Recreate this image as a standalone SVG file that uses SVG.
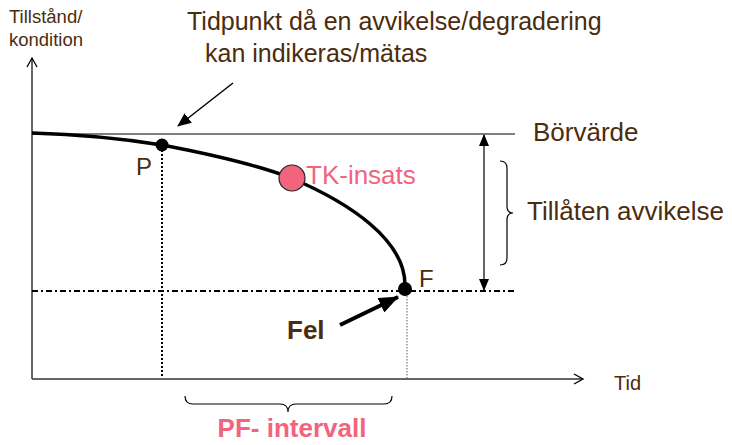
<svg xmlns="http://www.w3.org/2000/svg" width="732" height="445" viewBox="0 0 732 445">
<style>
text{font-family:"Liberation Sans",Arial,sans-serif;fill:#4B2C0E}
.pink{fill:#F2647E}
.ax{stroke:#333;stroke-width:1.5;fill:none}
</style>
<defs>
<marker id="open" markerWidth="12" markerHeight="12" refX="10" refY="6" orient="auto" markerUnits="userSpaceOnUse">
<path d="M1,1 L10,6 L1,11" fill="none" stroke="#000" stroke-width="1.3"/>
</marker>
<marker id="fill" markerWidth="14" markerHeight="12" refX="13" refY="6" orient="auto" markerUnits="userSpaceOnUse">
<path d="M0,0 L14,6 L0,12 Z" fill="#000"/>
</marker>
<marker id="fillBig" markerWidth="20" markerHeight="16" refX="19" refY="8" orient="auto" markerUnits="userSpaceOnUse">
<path d="M0,0 L20,8 L0,16 Z" fill="#000"/>
</marker>
<marker id="tri" markerWidth="12" markerHeight="12" refX="11" refY="6" orient="auto-start-reverse" markerUnits="userSpaceOnUse">
<path d="M0,1 L12,6 L0,11 Z" fill="#000"/>
</marker>
</defs>
<g id="axes">
<line x1="32" y1="379" x2="32" y2="58" class="ax" marker-end="url(#open)"/>
<line x1="32" y1="379" x2="583" y2="379" class="ax" marker-end="url(#open)"/>
</g>
<g id="labels-axes">
<text x="9" y="23" font-size="18.5">Tillstånd/</text>
<text x="9" y="46" font-size="18.5">kondition</text>
<text x="614" y="390" font-size="20">Tid</text>
</g>
<g id="connectors">
<line x1="32" y1="134" x2="515" y2="134" stroke="#000" stroke-width="1.2"/>
<line x1="32" y1="291" x2="515" y2="291" stroke="#000" stroke-width="2" stroke-dasharray="6,3,2,3"/>
<line x1="162" y1="150" x2="162" y2="378" stroke="#000" stroke-width="2" stroke-dasharray="2,2"/>
<line x1="407" y1="296" x2="407" y2="378" stroke="#777" stroke-width="1.2" stroke-dasharray="1.5,1.5"/>
<line x1="484" y1="135" x2="484" y2="290" stroke="#000" stroke-width="1.2" marker-start="url(#tri)" marker-end="url(#tri)"/>
<line x1="233" y1="83" x2="178" y2="126" stroke="#000" stroke-width="1.5" marker-end="url(#fill)"/>
<line x1="340" y1="325" x2="398" y2="297" stroke="#000" stroke-width="4" marker-end="url(#fillBig)"/>
<path d="M32,133 Q100,135 162,145 C220,156 260,166 291,178 C350,203 405,240 405,285" fill="none" stroke="#000" stroke-width="3.5"/>
<path d="M500,161 Q507,161 507,168 L507,206 Q507,213 513,213 Q507,213 507,220 L507,258 Q507,265 500,265" fill="none" stroke="#000" stroke-width="1.2"/>
<path d="M185,396 Q185,404 193,404 L280,404 Q288,404 288,412 Q288,404 296,404 L384,404 Q392,404 392,396" fill="none" stroke="#000" stroke-width="1.2"/>
</g>
<g id="node-P">
<circle cx="162" cy="145" r="6.5" fill="#000"/>
<text x="136" y="175" font-size="24">P</text>
</g>
<g id="node-TK">
<circle cx="292" cy="178" r="13" fill="#F2647E" stroke="#222" stroke-width="1.2"/>
<text x="306" y="184" font-size="26" class="pink">TK-insats</text>
</g>
<g id="node-F">
<circle cx="405" cy="289" r="7" fill="#000"/>
<text x="419" y="287" font-size="24">F</text>
</g>
<g id="texts">
<text x="187" y="30" font-size="25">Tidpunkt då en avvikelse/degradering</text>
<text x="205" y="62" font-size="25">kan indikeras/mätas</text>
<text x="533" y="141" font-size="26">Börvärde</text>
<text x="527" y="220" font-size="26">Tillåten avvikelse</text>
<text x="287" y="339" font-size="26" font-weight="bold">Fel</text>
<text x="292" y="437" font-size="26" font-weight="bold" class="pink" text-anchor="middle">PF- intervall</text>
</g>
</svg>
